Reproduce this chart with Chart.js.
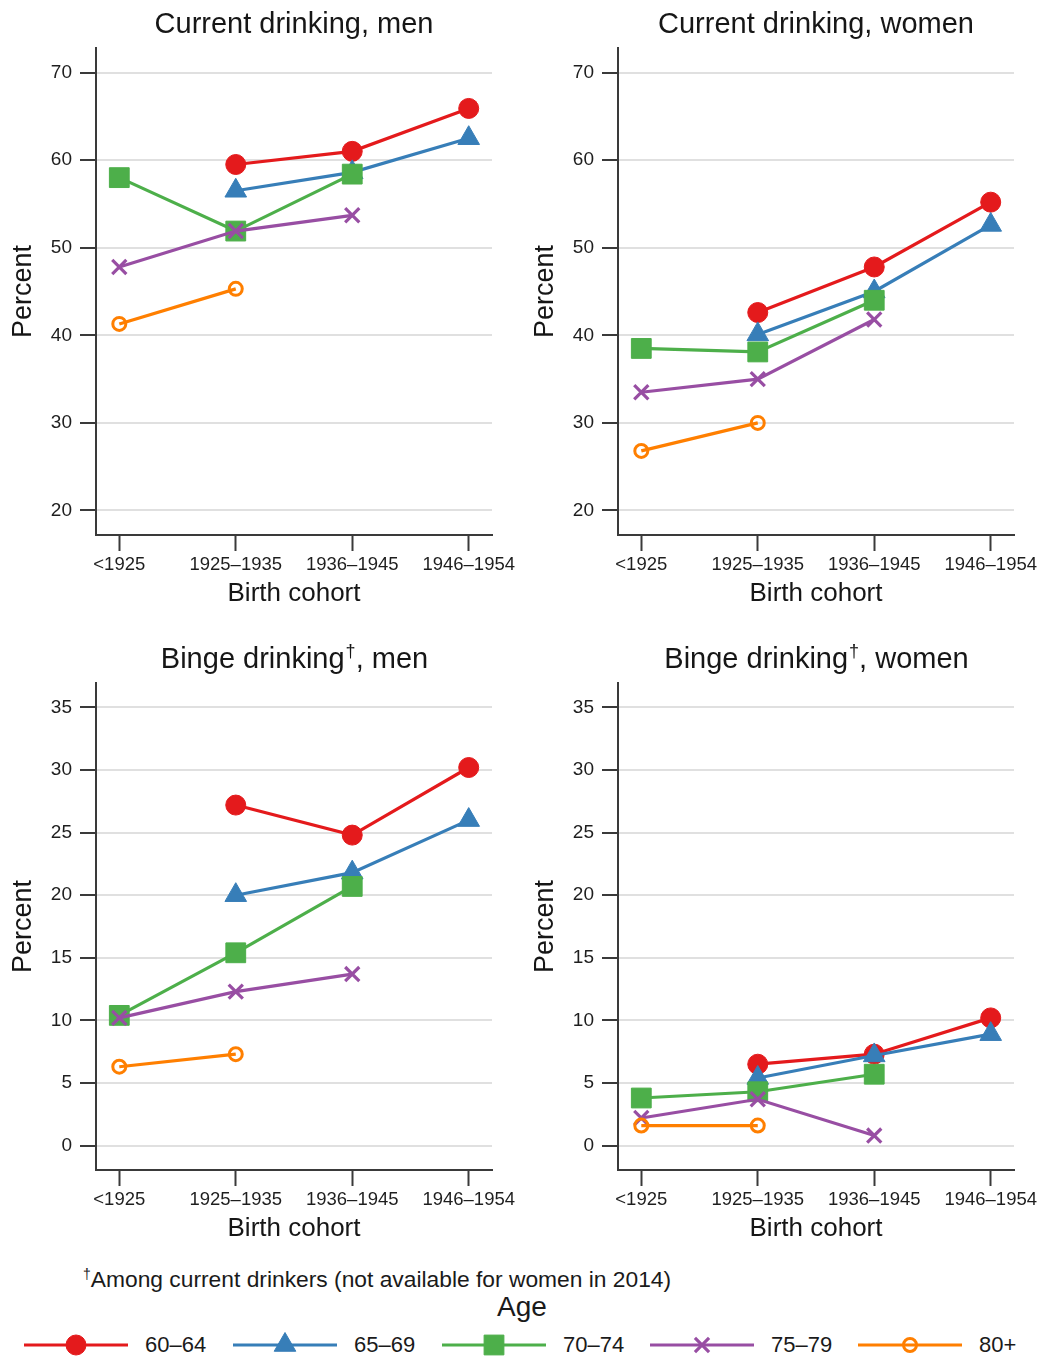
<!DOCTYPE html>
<html>
<head>
<meta charset="utf-8">
<script src="https://cdn.jsdelivr.net/npm/chart.js@4/dist/chart.umd.min.js"></script>
<style>
html,body{margin:0;padding:0;background:#fff;}
body{width:1044px;height:1359px;position:relative;overflow:hidden;font-family:"Liberation Sans",Arial,Helvetica,sans-serif;color:#1a1a1a;}
.panel{position:absolute;width:522px;height:615px;}
.panel canvas{display:block;}
#note{position:absolute;left:83px;top:1266px;font-size:22.8px;line-height:26px;white-space:nowrap;}
#note .dag{font-size:14px;position:relative;top:-8px;}
#ageTitle{position:absolute;left:0;width:1044px;top:1291px;text-align:center;font-size:28px;line-height:32px;}
#legend{position:absolute;left:0;top:1330px;width:1044px;height:30px;}
.lgItem{position:absolute;top:0;height:30px;}
.lgItem canvas{position:absolute;left:0;top:0;}
.lgItem span{position:absolute;top:0;line-height:30px;font-size:22px;white-space:nowrap;}
</style>
</head>
<body>
<div class="panel" style="left:0;top:0"><canvas id="c1" width="522" height="615"></canvas></div>
<div class="panel" style="left:522px;top:0"><canvas id="c2" width="522" height="615"></canvas></div>
<div class="panel" style="left:0;top:635px"><canvas id="c3" width="522" height="615"></canvas></div>
<div class="panel" style="left:522px;top:635px"><canvas id="c4" width="522" height="615"></canvas></div>
<div id="note"><span class="dag">†</span>Among current drinkers (not available for women in 2014)</div>
<div id="ageTitle">Age</div>
<div id="legend"></div>
<script>
// ---------- data ----------
const COHORTS = ['<1925', '1925–1935', '1936–1945', '1946–1954'];
const AGE_GROUPS = ['60–64', '65–69', '70–74', '75–79', '80+'];
const Y_TICKS_CURRENT = [20, 30, 40, 50, 60, 70];
const Y_TICKS_BINGE = [0, 5, 10, 15, 20, 25, 30, 35];

// Current drinking, men
const CUR_MEN_60_64 = [null, 59.5, 61.0, 65.9];
const CUR_MEN_65_69 = [null, 56.5, 58.6, 62.5];
const CUR_MEN_70_74 = [58.0, 51.9, 58.4, null];
const CUR_MEN_75_79 = [47.8, 51.9, 53.7, null];
const CUR_MEN_80P   = [41.3, 45.3, null, null];

// Current drinking, women
const CUR_WOMEN_60_64 = [null, 42.6, 47.8, 55.2];
const CUR_WOMEN_65_69 = [null, 40.1, 45.0, 52.6];
const CUR_WOMEN_70_74 = [38.5, 38.1, 44.0, null];
const CUR_WOMEN_75_79 = [33.5, 35.0, 41.8, null];
const CUR_WOMEN_80P   = [26.8, 30.0, null, null];

// Binge drinking, men
const BINGE_MEN_60_64 = [null, 27.2, 24.8, 30.2];
const BINGE_MEN_65_69 = [null, 20.0, 21.8, 26.0];
const BINGE_MEN_70_74 = [10.4, 15.4, 20.7, null];
const BINGE_MEN_75_79 = [10.2, 12.3, 13.7, null];
const BINGE_MEN_80P   = [6.3, 7.3, null, null];

// Binge drinking, women
const BINGE_WOMEN_60_64 = [null, 6.5, 7.3, 10.2];
const BINGE_WOMEN_65_69 = [null, 5.4, 7.2, 8.9];
const BINGE_WOMEN_70_74 = [3.8, 4.3, 5.7, null];
const BINGE_WOMEN_75_79 = [2.2, 3.7, 0.8, null];
const BINGE_WOMEN_80P   = [1.6, 1.6, null, null];

// ---------- styles ----------
const FONT = '"Liberation Sans", Arial, Helvetica, sans-serif';
const INK = '#161616';
const AXIS = '#3a3a3a';
const STYLES = [
  {color:'#e41a1c', style:'circle',   radius:10,  bw:1,   fill:true,  order:5},
  {color:'#377eb8', style:'triangle', radius:12.5,bw:1,   fill:true,  order:4},
  {color:'#4daf4a', style:'rect',     radius:14,  bw:1,   fill:true,  order:3},
  {color:'#984ea3', style:'crossRot', radius:10,  bw:3.2, fill:true,  order:2},
  {color:'#ff7f00', style:'circle',   radius:6.5, bw:3,   fill:false, order:1}
];

const panelTitle = {
  id: 'panelTitle',
  afterDraw(chart, args, opts) {
    const ctx = chart.ctx, a = chart.chartArea;
    ctx.save();
    ctx.fillStyle = INK;
    ctx.textAlign = 'left';
    ctx.textBaseline = 'alphabetic';
    const main = '29px ' + FONT, small = '18px ' + FONT;
    ctx.font = main;
    const w1 = ctx.measureText(opts.text).width;
    let w2 = 0, w3 = 0;
    if (opts.sup) {
      ctx.font = small; w2 = ctx.measureText(opts.sup).width;
      ctx.font = main; w3 = ctx.measureText(opts.after).width;
    }
    let x = (a.left + a.right) / 2 - (w1 + w2 + w3) / 2;
    const y = 33;
    ctx.font = main; ctx.fillText(opts.text, x, y); x += w1;
    if (opts.sup) {
      ctx.font = small; ctx.fillText(opts.sup, x + 1, y - 11); x += w2 + 1;
      ctx.font = main; ctx.fillText(opts.after, x, y);
    }
    ctx.restore();
  }
};

function makePanel(id, title, yMin, yMax, yTicks, seriesList) {
  const datasets = seriesList.map((vals, k) => {
    const s = STYLES[k];
    return {
      label: AGE_GROUPS[k],
      data: vals.map((v, i) => ({x: i, y: v})),
      borderColor: s.color,
      backgroundColor: s.color,
      borderWidth: 3.2,
      tension: 0,
      spanGaps: false,
      pointStyle: s.style,
      pointRadius: s.radius,
      pointHoverRadius: s.radius,
      pointBackgroundColor: s.fill ? s.color : 'rgba(0,0,0,0)',
      pointBorderColor: s.color,
      pointBorderWidth: s.bw,
      order: s.order
    };
  });
  new Chart(document.getElementById(id), {
    type: 'line',
    data: {datasets},
    plugins: [panelTitle],
    options: {
      responsive: false,
      animation: false,
      events: [],
      layout: {padding: {top: 48, right: 30, left: 0, bottom: 0}},
      plugins: {
        legend: {display: false},
        tooltip: {enabled: false},
        panelTitle: title
      },
      scales: {
        x: {
          type: 'linear',
          min: -0.2, max: 3.2,
          afterBuildTicks: s => { s.ticks = COHORTS.map((_, i) => ({value: i})); },
          afterFit: s => { s.height = 80; },
          grid: {drawOnChartArea: false, tickLength: 16, tickWidth: 2, tickColor: AXIS},
          border: {color: AXIS, width: 2},
          ticks: {
            callback: v => COHORTS[v],
            font: {size: 18.5, family: FONT}, color: '#1e1e1e',
            padding: 3, maxRotation: 0, autoSkip: false
          },
          title: {display: true, text: 'Birth cohort', font: {size: 26, family: FONT}, color: INK, padding: {top: 0, bottom: 6}}
        },
        y: {
          min: yMin, max: yMax,
          afterBuildTicks: s => { s.ticks = yTicks.map(v => ({value: v})); },
          afterFit: s => { s.width = 96; },
          grid: {color: '#e0e0e0', lineWidth: 2, tickLength: 16, tickWidth: 2, tickColor: AXIS},
          border: {color: AXIS, width: 2},
          ticks: {font: {size: 19, family: FONT}, color: '#1e1e1e', padding: 8},
          title: {display: true, text: 'Percent', font: {size: 27, family: FONT}, color: INK, padding: {top: 7, bottom: 0}}
        }
      }
    }
  });
}

makePanel('c1', {text: 'Current drinking, men'}, 17.2, 72.8, Y_TICKS_CURRENT,
  [CUR_MEN_60_64, CUR_MEN_65_69, CUR_MEN_70_74, CUR_MEN_75_79, CUR_MEN_80P]);
makePanel('c2', {text: 'Current drinking, women'}, 17.2, 72.8, Y_TICKS_CURRENT,
  [CUR_WOMEN_60_64, CUR_WOMEN_65_69, CUR_WOMEN_70_74, CUR_WOMEN_75_79, CUR_WOMEN_80P]);
makePanel('c3', {text: 'Binge drinking', sup: '†', after: ', men'}, -1.95, 36.95, Y_TICKS_BINGE,
  [BINGE_MEN_60_64, BINGE_MEN_65_69, BINGE_MEN_70_74, BINGE_MEN_75_79, BINGE_MEN_80P]);
makePanel('c4', {text: 'Binge drinking', sup: '†', after: ', women'}, -1.95, 36.95, Y_TICKS_BINGE,
  [BINGE_WOMEN_60_64, BINGE_WOMEN_65_69, BINGE_WOMEN_70_74, BINGE_WOMEN_75_79, BINGE_WOMEN_80P]);

// ---------- legend ----------
const LEGEND_LEFT = [24, 233, 442, 650, 858];
const legend = document.getElementById('legend');
AGE_GROUPS.forEach((name, k) => {
  const s = STYLES[k];
  const item = document.createElement('div');
  item.className = 'lgItem';
  item.style.left = LEGEND_LEFT[k] + 'px';
  item.style.width = '200px';
  const cv = document.createElement('canvas');
  cv.width = 106; cv.height = 30;
  item.appendChild(cv);
  const lab = document.createElement('span');
  lab.style.left = '121px';
  lab.textContent = name;
  item.appendChild(lab);
  legend.appendChild(item);
  const ctx = cv.getContext('2d');
  ctx.strokeStyle = s.color; ctx.lineWidth = 3.2;
  ctx.beginPath(); ctx.moveTo(0, 15); ctx.lineTo(104, 15); ctx.stroke();
  ctx.fillStyle = s.fill ? s.color : '#ffffff00';
  ctx.strokeStyle = s.color; ctx.lineWidth = s.bw;
  if (Chart.helpers && Chart.helpers.drawPoint) {
    Chart.helpers.drawPoint(ctx, {pointStyle: s.style, radius: s.radius, rotation: 0, borderWidth: s.bw}, 52, 15);
  }
});
</script>
</body>
</html>
